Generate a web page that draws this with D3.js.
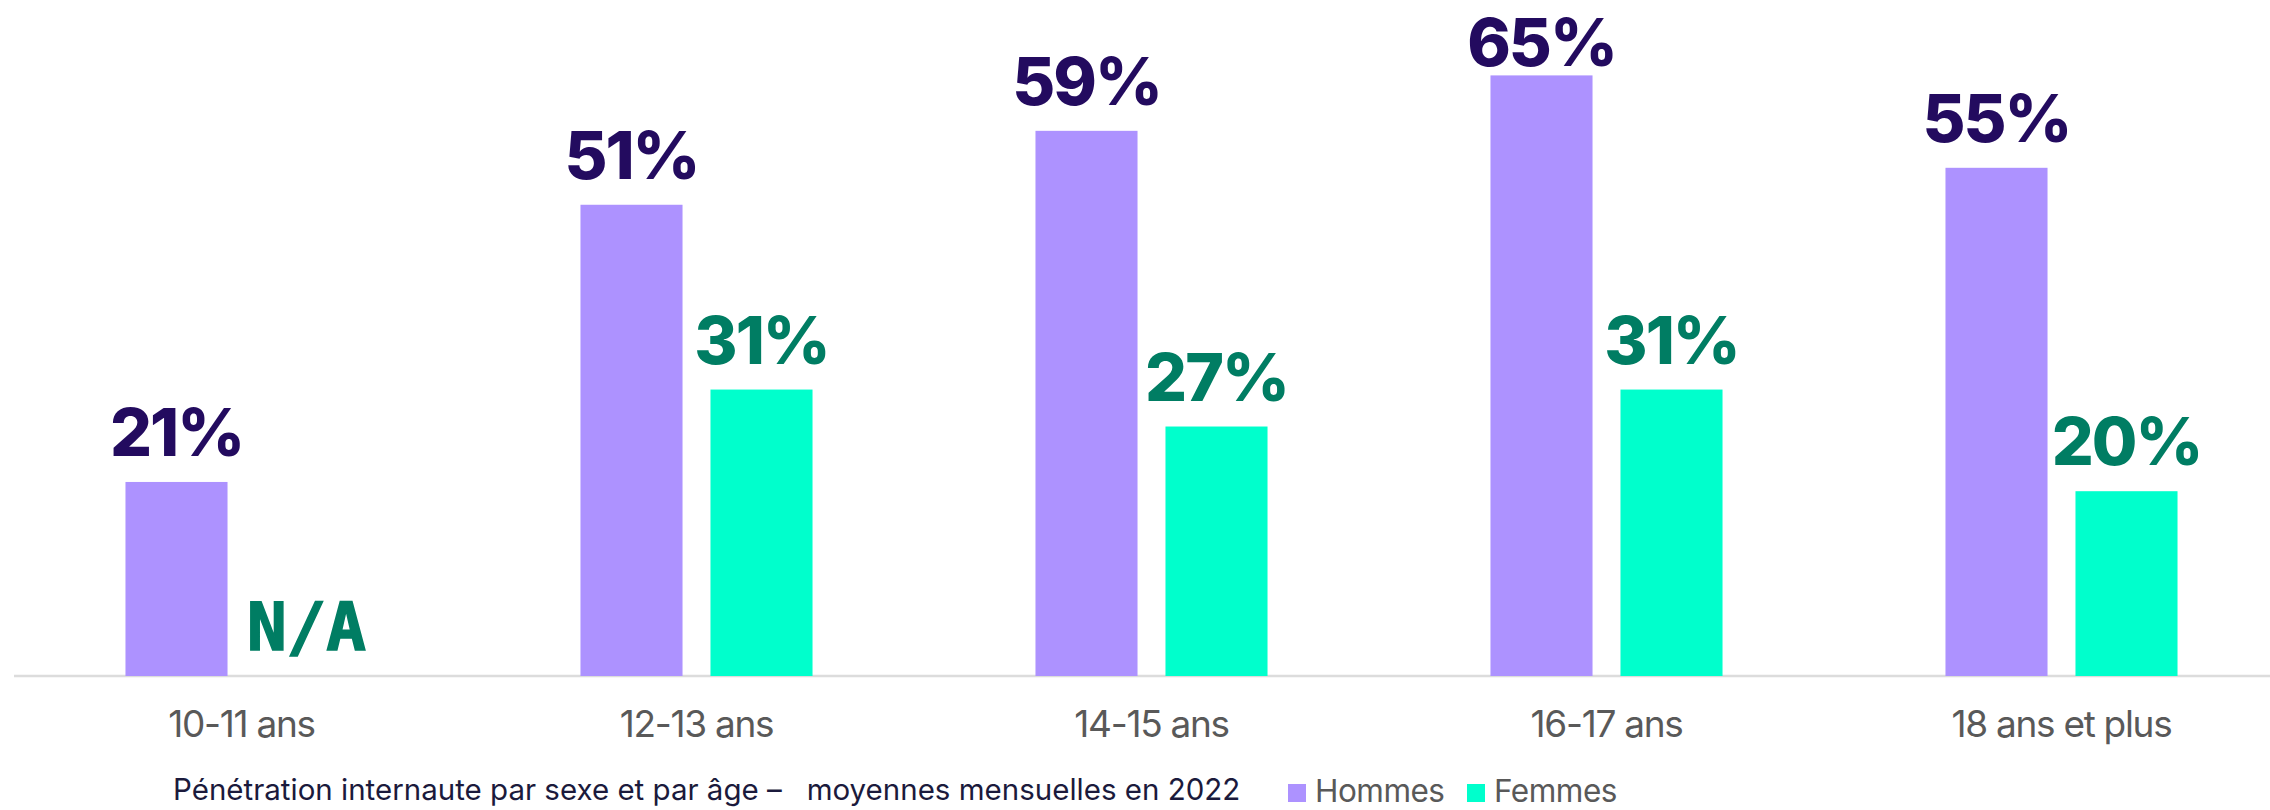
<!DOCTYPE html>
<html>
<head>
<meta charset="utf-8">
<script src="https://cdn.jsdelivr.net/npm/d3@7"></script>
<style>
  html, body { margin: 0; padding: 0; background: #ffffff; }
  svg { display: block; }
</style>
</head>
<body>
<svg id="chart" width="2270" height="810"></svg>
<script>
const categories = ["10-11 ans", "12-13 ans", "14-15 ans", "16-17 ans", "18 ans et plus"];
const series = ["Hommes", "Femmes"];
const hommes = [21, 51, 59, 65, 55];
const femmes = [null, 31, 27, 31, 20];
const naLabel = "N/A";
const caption = "Pénétration internaute par sexe et par âge –   moyennes mensuelles en 2022";

const colors = { Hommes: "#ad92ff", Femmes: "#00ffcc" };
const labelColors = { Hommes: "#230b5f", Femmes: "#007d63" };

const svg = d3.select("#chart");
const baseY = 676;

const x0 = d3.scaleBand().domain(categories).range([14, 2289]).paddingInner(0.49).paddingOuter(0.245);
const x1 = d3.scaleBand().domain(series).range([0, x0.bandwidth()]).paddingInner(0.215).paddingOuter(0);
const y = d3.scaleLinear().domain([0, 100]).range([baseY, baseY - 924]);

const rows = categories.map((c, i) => ({ cat: c, values: [
  { key: "Hommes", value: hommes[i] },
  { key: "Femmes", value: femmes[i] }
]}));

// axis
const axis = d3.axisBottom(x0).tickSize(0).tickSizeOuter(0);
const gAxis = svg.append("g").attr("transform", `translate(0,${baseY})`).call(axis);
gAxis.select(".domain").attr("d", `M14,0H2270`).attr("stroke", "#dcdcdc").attr("stroke-width", 2.5);
gAxis.selectAll("text")
  .attr("y", 61).attr("dy", 0)
  .attr("font-family", "Inter, sans-serif")
  .attr("font-size", 37)
  .attr("letter-spacing", -1.3)
  .attr("fill", "#595959");

const groups = svg.append("g").selectAll("g").data(rows).join("g")
  .attr("transform", d => `translate(${x0(d.cat)},0)`);

groups.selectAll("rect").data(d => d.values.filter(v => v.value != null)).join("rect")
  .attr("x", d => x1(d.key))
  .attr("width", x1.bandwidth())
  .attr("y", d => y(d.value))
  .attr("height", d => y(0) - y(d.value))
  .attr("fill", d => colors[d.key]);

groups.selectAll("text.val").data(d => d.values).join("text")
  .attr("class", "val")
  .attr("x", d => x1(d.key) + x1.bandwidth() / 2)
  .attr("y", d => d.value == null ? y(0) - 26 : Math.max(y(d.value) - 26, 66))
  .attr("text-anchor", "middle")
  .attr("font-family", d => d.value == null ? "'DejaVu Sans Mono', monospace" : "Inter, sans-serif")
  .attr("font-weight", d => d.value == null ? 700 : 800)
  .attr("font-size", d => d.value == null ? 66 : 66)
  .attr("letter-spacing", d => d.value == null ? 0 : -2)
  .attr("fill", d => labelColors[d.key])
  .attr("stroke", d => d.value == null ? labelColors[d.key] : "none")
  .attr("stroke-width", d => d.value == null ? 1.5 : 0)
  .text(d => d.value == null ? naLabel : d.value + "%");

// caption
svg.append("text")
  .attr("x", 173).attr("y", 800)
  .attr("font-family", "Inter, sans-serif")
  .attr("font-size", 29.5)
  .attr("fill", "#1b1a3c")
  .attr("xml:space", "preserve")
  .style("white-space", "pre")
  .text(caption);

// legend
const legendX = [1288, 1467];
const leg = svg.append("g").selectAll("g").data(series).join("g")
  .attr("transform", (d, i) => `translate(${legendX[i]},0)`);
leg.append("rect").attr("x", 0).attr("y", 784).attr("width", 18).attr("height", 18)
  .attr("fill", d => colors[d]);
leg.append("text").attr("x", 27).attr("y", 802)
  .attr("font-family", "Inter, sans-serif")
  .attr("font-size", 31.5)
  .attr("letter-spacing", -0.5)
  .attr("fill", "#595959")
  .text(d => d);
</script>
</body>
</html>
